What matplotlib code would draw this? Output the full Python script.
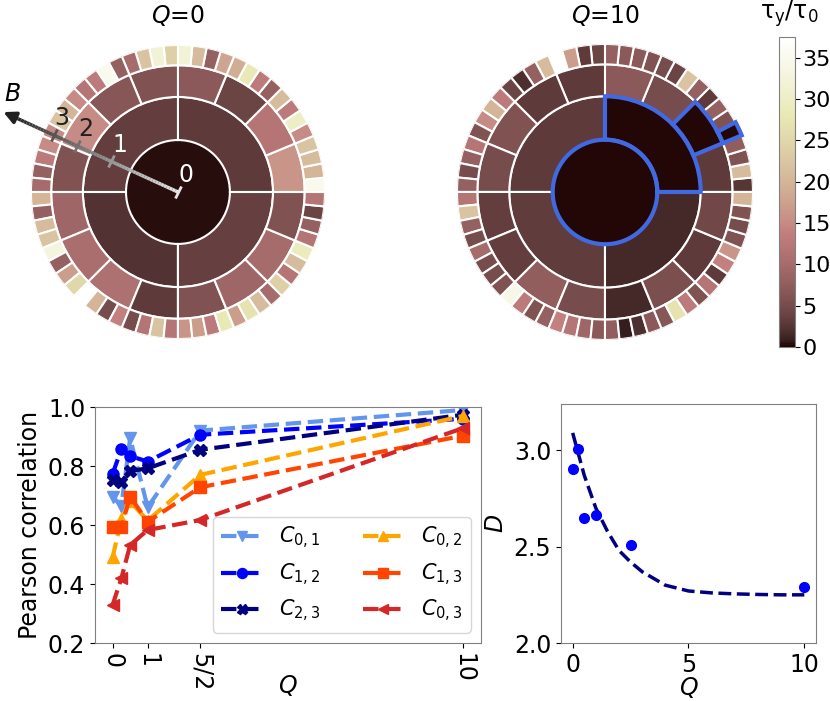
import numpy as np
import matplotlib
matplotlib.use("Agg")
import matplotlib.pyplot as plt
from matplotlib.collections import LineCollection
from matplotlib.markers import MarkerStyle
from matplotlib.transforms import Affine2D

plt.rcParams['font.size'] = 17

# ---- ring data (values of tau_y/tau_0), sectors counted CCW from east ----
r_edges = [0, 1.0, 1.83, 2.44, 2.83]

q0_center = [0.3]
q0_ring1 = [3.0, 3.5, 2.2, 3.6]
q0_ring2 = [16, 12, 4, 7, 6, 6.5, 15, 6,
            9, 10.5, 11, 3, 6, 9, 10, 6]
q0_ring3 = [35, 20, 21, 22, 15, 30, 13, 21,
            8, 13, 28, 19, 18, 8, 21, 32,
            24, 32, 22, 10, 8, 35, 13, 12,
            15, 20, 22, 15, 15, 13, 8, 10,
            20, 8, 21, 22, 33, 8, 17, 25,
            np.nan, 20, 5, 14, 5, 12, 22, 12,
            16, 17, 13, 28, 17, 27, 21, 10,
            24, 12, 21, 29, 12, 8, 4, 12]

q10_center = [0.2]
q10_ring1 = [0.2, 3.0, 3.2, 1.5]
q10_ring2 = [3, 0.2, 5, 7, 3, 3, 6, 5,
             3.5, 3.5, 7.5, 5, 1.5, 5.5, 3, 4.5]
q10_ring3 = [2.5, 21, 6, 7.5, 0.2, 6, 8, 3,
             8, 22, 4, 5, 6, 7, 7, 8,
             4, 3, 17, np.nan, 21, 8, 2, 4,
             13, 20, 15, 6, 12, 8, 5, 8,
             12, 22, 8, 5, 10, 5, 5, 6,
             34, 13, 6, 8, 14, 12, 9, 7,
             7.5, 0.8, 2, 7, 6.5, 27, 13, 6,
             12, 3, 14, 16, 6, 5, 6, 20]

# ---- Pearson correlation ----
q_vals = [0, 0.25, 0.5, 1, 2.5, 10]
c01 = [0.696, 0.664, 0.894, 0.66, 0.92, 0.99]
c12 = [0.773, 0.857, 0.834, 0.815, 0.906, 0.96]
c23 = [0.753, 0.747, 0.783, 0.792, 0.855, 0.974]
c02 = [0.49, 0.62, 0.68, 0.615, 0.77, 0.97]
c13 = [0.594, 0.594, 0.696, 0.611, 0.728, 0.903]
c03 = [0.329, 0.419, 0.532, 0.583, 0.617, 0.929]

# ---- fractal dimension ----
d_q = [0, 0.25, 0.5, 1, 2.5, 10]
d_vals = [2.904, 3.009, 2.649, 2.666, 2.506, 2.289]
fit_q = [0, 0.5, 1, 1.5, 2, 2.5, 3, 4, 5, 6, 7, 8, 9, 10]
fit_d = [3.09, 2.87, 2.70, 2.58, 2.48, 2.42, 2.37, 2.30, 2.27, 2.26, 2.255, 2.252, 2.25, 2.25]

cmap = plt.get_cmap('pink')
norm = plt.Normalize(0, 37.5)
hl = '#4169e1'

fig = plt.figure(figsize=(8.3, 7.01), dpi=100)


def draw_rings(ax, center, ring1, ring2, ring3):
    ax.bar(0, r_edges[1], width=2 * np.pi, bottom=0,
           color=cmap(norm(center[0])), edgecolor='none')
    for lev, vals in enumerate([ring1, ring2, ring3], start=1):
        vals = np.array(vals, dtype=float)
        n = len(vals)
        w = 2 * np.pi / n
        th = np.arange(n) * w + w / 2
        ok = ~np.isnan(vals)
        ax.bar(th[ok], r_edges[lev + 1] - r_edges[lev], width=w,
               bottom=r_edges[lev], color=cmap(norm(vals[ok])),
               edgecolor='white', linewidth=1.5)
    ax.set_ylim(0, r_edges[-1])
    ax.axis('off')


ax0 = fig.add_axes([0.0373, 0.5164, 0.3542, 0.4194], projection='polar')
draw_rings(ax0, q0_center, q0_ring1, q0_ring2, q0_ring3)

ax1 = fig.add_axes([0.5506, 0.515, 0.3566, 0.4223], projection='polar')
draw_rings(ax1, q10_center, q10_ring1, q10_ring2, q10_ring3)

# highlighted path in Q=10
circ = np.linspace(0, 2 * np.pi, 361)
ax1.plot(circ, np.ones_like(circ), color=hl, lw=3)
ax1.bar(np.pi / 4, r_edges[2] - r_edges[1], width=np.pi / 2, bottom=r_edges[1],
        fill=False, edgecolor=hl, linewidth=3, clip_on=False)
w2 = 2 * np.pi / 16
ax1.bar(1.5 * w2, r_edges[3] - r_edges[2], width=w2, bottom=r_edges[2],
        fill=False, edgecolor=hl, linewidth=3, clip_on=False)
w3 = 2 * np.pi / 64
ax1.bar(4.5 * w3, r_edges[4] - r_edges[3], width=w3, bottom=r_edges[3],
        fill=False, edgecolor=hl, linewidth=3, clip_on=False)

# scale arrow in Q=0
ang = 155.4
th_a = np.deg2rad(ang)
rr = np.linspace(0, 3.5, 60)
segs = [[(th_a, rr[i]), (th_a, rr[i + 1])] for i in range(len(rr) - 1)]
grays = np.linspace(0.9, 0.15, len(segs))
lc = LineCollection(segs, colors=[(g, g, g) for g in grays], linewidths=2.5,
                    clip_on=False)
ax0.add_collection(lc)
ax0.annotate('', xy=(th_a, 3.75), xytext=(th_a, 3.4),
             arrowprops=dict(arrowstyle='-|>', color='#202020', lw=2.5,
                             mutation_scale=18),
             annotation_clip=False)
ax0.annotate('$B$', xy=(th_a, 3.75), xytext=(8, 12), textcoords='offset points',
             ha='center', va='center', fontsize=17, annotation_clip=False)
tick_r = [0, 1.415, 2.135, 2.635]
tick_lab = ['0', '1', '2', '3']
lab_col = ['white', 'white', '#202020', '#202020']
tick_m = MarkerStyle('|', transform=Affine2D().rotate_deg(ang - 180))
for r, lab, lcol in zip(tick_r, tick_lab, lab_col):
    g = 0.9 - 0.75 * r / 3.5
    ax0.plot([th_a], [r], marker=tick_m, ms=10, mew=2, color=(g, g, g),
             clip_on=False)
    ax0.annotate(lab, xy=(th_a, r), xytext=(6, 12), textcoords='offset points',
                 ha='center', va='center', fontsize=17, color=lcol,
                 annotation_clip=False)

fig.text(178 / 830, 1 - 16 / 701, '$Q$=0', ha='center', va='center', fontsize=17)
fig.text(605 / 830, 1 - 16 / 701, '$Q$=10', ha='center', va='center', fontsize=17)

# colorbar
cax = fig.add_axes([0.9386, 0.505, 0.0193, 0.442])
sm = plt.cm.ScalarMappable(cmap=cmap, norm=norm)
cb = fig.colorbar(sm, cax=cax, ticks=[0, 5, 10, 15, 20, 25, 30, 35])
cb.outline.set_edgecolor('gray')
cax.tick_params(labelsize=16, pad=2)
fig.text(789 / 830, 1 - 14 / 701, 'τ$_\\mathrm{y}$/τ$_0$', ha='center', va='center',
         fontsize=17)

# Pearson correlation panel
axp = fig.add_axes([0.1145, 0.0827, 0.465, 0.3367])
styles = [(c01, 'cornflowerblue', 'v', '$C_{0,1}$'),
          (c12, 'blue', 'o', '$C_{1,2}$'),
          (c23, 'navy', 'X', '$C_{2,3}$'),
          (c02, 'orange', '^', '$C_{0,2}$'),
          (c13, 'orangered', 's', '$C_{1,3}$'),
          (c03, 'tab:red', '<', '$C_{0,3}$')]
for ys, col, mk, lab in styles:
    axp.plot(q_vals, ys, ls='--', lw=3, color=col, marker=mk, ms=8, label=lab)
axp.set_xlim(-0.5, 10.5)
axp.set_ylim(0.2, 1.0)
axp.set_xticks([0, 1, 2.5, 10])
axp.set_xticklabels(['0', '1', '5/2', '10'], rotation=270)
axp.set_yticks([0.2, 0.4, 0.6, 0.8, 1.0])
axp.set_xlabel('$Q$')
axp.xaxis.set_label_coords(0.5, -0.125)
axp.set_ylabel('Pearson correlation')
axp.legend(ncol=2, loc='lower right', fontsize=15, markerscale=0.9)
for s in axp.spines.values():
    s.set_edgecolor('gray')

# D panel
axd = fig.add_axes([0.676, 0.0827, 0.307, 0.341])
axd.plot(fit_q, fit_d, ls='--', lw=2.5, color='navy')
axd.plot(d_q, d_vals, 'o', color='blue', ms=7)
axd.set_xlim(-0.5, 10.5)
axd.set_ylim(2.0, 3.24)
axd.set_xticks([0, 5, 10])
axd.set_yticks([2.0, 2.5, 3.0])
axd.set_xlabel('$Q$')
axd.xaxis.set_label_coords(0.5, -0.135)
axd.set_ylabel('$D$')
for s in axd.spines.values():
    s.set_edgecolor('gray')

fig.savefig('out.png', dpi=100)
